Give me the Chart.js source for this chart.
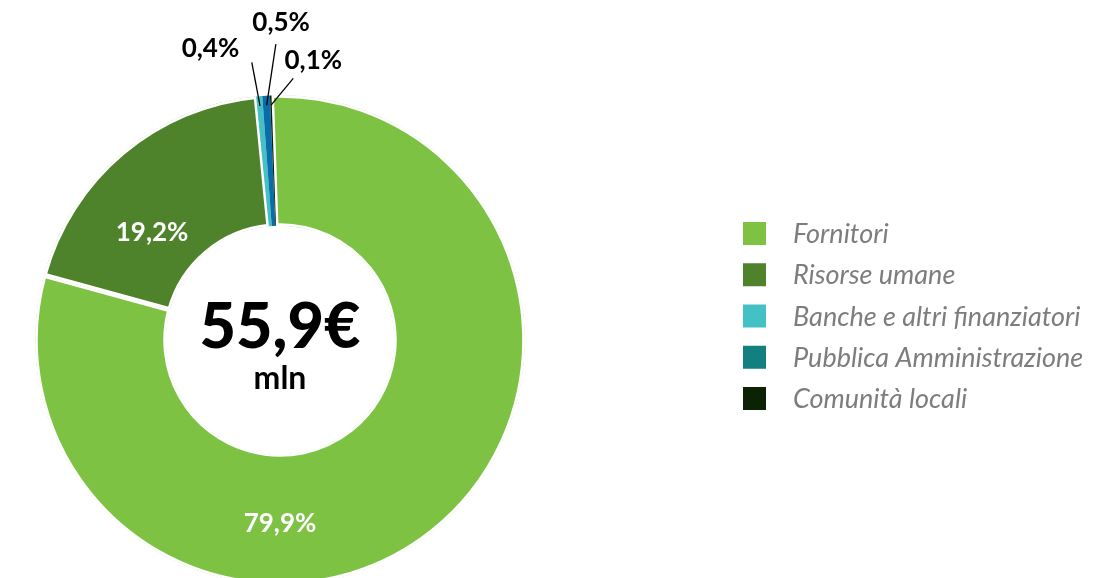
<!DOCTYPE html>
<html>
<head>
<meta charset="utf-8">
<script src="https://cdn.jsdelivr.net/npm/chart.js@4.4.0/dist/chart.umd.min.js"></script>
<style>
  html, body { margin: 0; padding: 0; background: #fff; overflow: hidden; }
  /* taller than the window: the ring runs off the bottom edge like the original */
  #wrap { position: relative; width: 1106px; height: 600px; }
</style>
</head>
<body>
<div id="wrap"><canvas id="myChart"></canvas></div>
<script>
const categories = [
  "Fornitori",
  "Risorse umane",
  "Banche e altri finanziatori",
  "Pubblica Amministrazione",
  "Comunità locali",
];
const shares = [79.9, 19.2, 0.4, 0.5, 0.1];
const shareLabels = ["79,9%", "19,2%", "0,4%", "0,5%", "0,1%"];
const totalLabel = "55,9€";
const unitLabel = "mln";

const sliceColors = ["#7dc243", "#4e822b", "#43c1c4", "#0a6dab", "#0b2205"];
// legend square for PA is teal in the original, not the blue of the slice
const legendColors = ["#7dc243", "#4e822b", "#43c1c4", "#128080", "#0b2205"];

// label spots: screen angle in degrees (clockwise from 12 o'clock) and distance from centre
const labelSpots = [
  { angle: 180, r: 184, color: "#fff" },
  { angle: 310, r: 167, color: "#fff" },
  { angle: 346.6, r: 300, color: "#000", line: { angle: 354.2, r: 279 } },
  { angle: 0.2, r: 317, color: "#000", line: { angle: 359.2, r: 296 } },
  { angle: 6.8, r: 281, color: "#000", line: { angle: 2.9, r: 262 } },
];

function polar(cx, cy, deg, r) {
  const a = (deg * Math.PI) / 180;
  return { x: cx + r * Math.sin(a), y: cy - r * Math.cos(a) };
}

const sliceLabels = {
  id: "sliceLabels",
  afterDatasetsDraw(chart) {
    const ctx = chart.ctx;
    const arcs = chart.getDatasetMeta(0).data;
    ctx.save();
    ctx.font = "bold 26px Lato";
    ctx.textAlign = "center";
    ctx.textBaseline = "middle";
    arcs.forEach((arc, i) => {
      const spot = labelSpots[i];
      const cx = arc.x, cy = arc.y;
      if (spot.line) {
        const mid = (arc.startAngle + arc.endAngle) / 2;
        const r0 = arc.outerRadius - 10;
        const end = polar(cx, cy, spot.line.angle, spot.line.r);
        ctx.strokeStyle = "#000";
        ctx.lineWidth = 1.3;
        ctx.beginPath();
        ctx.moveTo(cx + r0 * Math.cos(mid), cy + r0 * Math.sin(mid));
        ctx.lineTo(end.x, end.y);
        ctx.stroke();
      }
      const p = polar(cx, cy, spot.angle, spot.r);
      ctx.fillStyle = spot.color;
      ctx.fillText(shareLabels[i], p.x, p.y);
    });
    ctx.restore();
  },
  afterDraw(chart) {
    const ctx = chart.ctx;
    const arc = chart.getDatasetMeta(0).data[0];
    ctx.save();
    ctx.fillStyle = "#000";
    ctx.textAlign = "center";
    ctx.textBaseline = "alphabetic";
    ctx.font = "900 63px Lato";
    ctx.fillText(totalLabel, arc.x, arc.y + 8);
    ctx.font = "bold 32px Lato";
    ctx.fillText(unitLabel, arc.x, arc.y + 49);

    // legend
    ctx.textAlign = "left";
    ctx.textBaseline = "middle";
    ctx.font = "italic 27px Lato";
    categories.forEach((c, i) => {
      const y = 233.5 + i * 41.25;
      ctx.fillStyle = legendColors[i];
      ctx.fillRect(743, y - 11.5, 23, 23);
      ctx.fillStyle = "#7d7d7d";
      ctx.fillText(c, 793, y + 1);
    });
    ctx.restore();
  },
};

const data = {
  labels: categories,
  datasets: [
    {
      data: shares,
      backgroundColor: sliceColors,
      borderColor: "#fff",
      borderWidth: [2.5, 2.5, 0, 0, 0],
      borderAlign: "inner",
    },
  ],
};

const config = {
  type: "doughnut",
  data: data,
  options: {
    responsive: true,
    maintainAspectRatio: false,
    animation: false,
    rotation: -2,
    cutout: "46.5%",
    layout: {
      padding: { top: 95, left: 35, right: 581, bottom: 15 },
    },
    plugins: {
      legend: { display: false },
      tooltip: { enabled: false },
    },
  },
  plugins: [sliceLabels],
};

var myChart = new Chart(document.getElementById("myChart"), config);
</script>
</body>
</html>
